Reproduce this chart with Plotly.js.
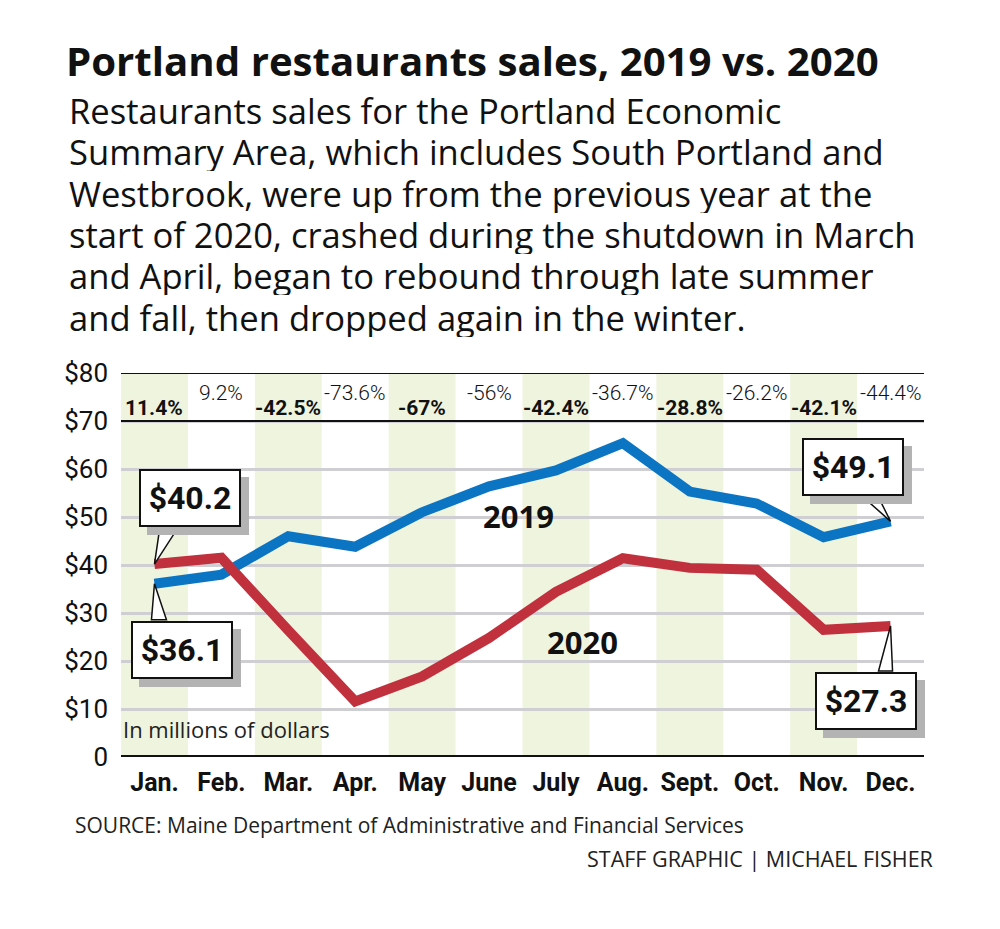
<!DOCTYPE html>
<html>
<head>
<meta charset="utf-8">
<script src="https://cdn.plot.ly/plotly-3.0.1.min.js"></script>
<style>html,body{margin:0;padding:0;background:#fff;}#chart{width:1000px;height:929px;}</style>
</head>
<body>
<div id="chart"></div>
<script>
// ---- data ----
const months = ["Jan.", "Feb.", "Mar.", "Apr.", "May", "June", "July", "Aug.", "Sept.", "Oct.", "Nov.", "Dec."];
const sales2019 = [36.1, 38.0, 46.0, 43.8, 51.0, 56.4, 59.7, 65.4, 55.3, 52.8, 45.8, 49.1];
const sales2020 = [40.2, 41.5, 26.4, 11.6, 16.8, 24.8, 34.4, 41.4, 39.4, 39.0, 26.5, 27.3];
const pctChange = ["11.4%", "9.2%", "-42.5%", "-73.6%", "-67%", "-56%", "-42.4%", "-36.7%", "-28.8%", "-26.2%", "-42.1%", "-44.4%"];
const yTicks = [0, 10, 20, 30, 40, 50, 60, 70, 80];
const yTickText = ["0", "$10", "$20", "$30", "$40", "$50", "$60", "$70", "$80"];
const subtitleLines = [
  "Restaurants sales for the Portland Economic",
  "Summary Area, which includes South Portland and",
  "Westbrook, were up from the previous year at the",
  "start of 2020, crashed during the shutdown in March",
  "and April, began to rebound through late summer",
  "and fall, then dropped again in the winter."
];

const idx = months.map((m, i) => i);
const BLUE = "#0b75c4", RED = "#c1303d";
const COND = "Roboto, 'Liberation Sans Narrow', sans-serif";
const SANS = "'Open Sans', 'Noto Sans', sans-serif";

const traces = [
  {x: idx, y: sales2019, type: "scatter", mode: "lines", line: {color: BLUE, width: 10}, hoverinfo: "skip"},
  {x: idx, y: sales2020, type: "scatter", mode: "lines", line: {color: RED, width: 10}, hoverinfo: "skip"}
];

const shapes = [];
idx.forEach(i => {
  if (i % 2 === 0) {
    shapes.push({type: "rect", xref: "x", yref: "y", x0: i - 0.5, x1: i + 0.5, y0: 0, y1: 80,
      fillcolor: "#eff4df", line: {width: 0}, layer: "below"});
  }
});
[70, 80].forEach(v => shapes.push({type: "line", xref: "paper", yref: "y", x0: 0, x1: 1, y0: v, y1: v,
  line: {color: "#111", width: 2}}));
shapes.push({type: "line", xref: "paper", yref: "y", x0: 0, x1: 1, y0: 0, y1: 0, line: {color: "#111", width: 4}});

const annotations = [];
// percent labels
idx.forEach(i => {
  const bold = i % 2 === 0;
  annotations.push({x: i, y: bold ? 72.7 : 75.9, xref: "x", yref: "y", showarrow: false,
    text: bold ? "<b>" + pctChange[i] + "</b>" : pctChange[i],
    font: {family: COND, size: 21, weight: bold ? 700 : 300, color: "#111"}});
});
annotations.push({x: 0.5, y: 83.7, xref: "paper", yref: "y", showarrow: false,
  text: "<b>PERCENT CHANGE FROM 2019 TO 2020</b>", font: {family: "DejaVu Sans", size: 13, color: "#111"}});

// callouts: box offsets (ax, ay) and pointer triangle (pixel path relative to the point)
function callout(xi, yv, label, ax, ay, ptr) {
  annotations.push({x: xi, y: yv, xref: "x", yref: "y", text: " ", showarrow: true,
    arrowcolor: "rgba(0,0,0,0)", arrowwidth: 0.1, arrowhead: 0, ax: ax + 8, ay: ay + 8,
    bgcolor: "#b3b3b3", bordercolor: "#b3b3b3", borderwidth: 2, width: 96, height: 52,
    font: {family: COND, size: 32, color: "#b3b3b3"}});
  annotations.push({x: xi, y: yv, xref: "x", yref: "y", text: "<b>" + label + "</b>", showarrow: true,
    arrowcolor: "rgba(0,0,0,0)", arrowwidth: 0.1, arrowhead: 0, ax: ax, ay: ay,
    bgcolor: "#fff", bordercolor: "#111", borderwidth: 2, width: 96, height: 52,
    font: {family: COND, size: 32, color: "#111"}});
  shapes.push({type: "path", xref: "x", yref: "y", xsizemode: "pixel", ysizemode: "pixel",
    xanchor: xi, yanchor: yv,
    path: "M " + ptr[0] + " " + ptr[1] + " L 0 0 L " + ptr[2] + " " + ptr[3] + " Z",
    fillcolor: "#fff", line: {color: "#111", width: 1.5}, layer: "above"});
}
callout(0, sales2020[0], "$" + sales2020[0].toFixed(1), 36, -66, [5, 34, 22, 34]);
callout(0, sales2019[0], "$" + sales2019[0].toFixed(1), 28, 66, [-3, -36, 12, -36]);
callout(11, sales2019[11], "$" + sales2019[11].toFixed(1), -38, -54, [-27, 24, -12, 24]);
callout(11, sales2020[11], "$" + sales2020[11].toFixed(1), -25, 75, [-12, -45, 2, -45]);

// series labels
annotations.push({x: (518 - 121) / 803, y: (757 - 516) / 384, xref: "paper", yref: "paper", showarrow: false,
  xanchor: "center", yanchor: "middle", text: "<b>2019</b>", font: {family: SANS, size: 31, color: "#111"}});
annotations.push({x: (582 - 121) / 803, y: (757 - 642) / 384, xref: "paper", yref: "paper", showarrow: false,
  xanchor: "center", yanchor: "middle", text: "<b>2020</b>", font: {family: SANS, size: 31, color: "#111"}});

annotations.push({x: (121 - 121) / 803, y: (757 - 729) / 384, xref: "paper", yref: "paper", showarrow: false,
  xanchor: "left", yanchor: "middle", text: "In millions of dollars", font: {family: SANS, size: 22, color: "#222"}});

// subtitle
subtitleLines.forEach((t, k) => {
  annotations.push({x: (68 - 121) / 803, y: (757 - (110 + k * 41.3)) / 384, xref: "paper", yref: "paper",
    showarrow: false, xanchor: "left", yanchor: "middle", height: 40, borderpad: 0,
    text: t, font: {family: SANS, size: 34.6, color: "#111"}});
});

annotations.push({x: (73 - 121) / 803, y: (757 - 825) / 384, xref: "paper", yref: "paper", showarrow: false,
  xanchor: "left", yanchor: "middle", text: "SOURCE: Maine Department of Administrative and Financial Services",
  font: {family: SANS, size: 21, color: "#222"}});
annotations.push({x: (935 - 121) / 803, y: (757 - 858) / 384, xref: "paper", yref: "paper", showarrow: false,
  xanchor: "right", yanchor: "middle", text: "STAFF GRAPHIC | MICHAEL FISHER", font: {family: SANS, size: 21.5, color: "#222"}});

const layout = {
  width: 1000, height: 929,
  margin: {l: 121, r: 76, t: 373, b: 172},
  paper_bgcolor: "#fff", plot_bgcolor: "rgba(0,0,0,0)",
  showlegend: false,
  title: {text: "<b>Portland restaurants sales, 2019 vs. 2020</b>", x: 0.066, xanchor: "left", xref: "container",
    y: 1 - 62 / 929, yanchor: "middle", yref: "container", font: {family: SANS, size: 40.2, color: "#111"}},
  xaxis: {range: [-0.5, 11.5], tickvals: idx, ticktext: months, showgrid: false, zeroline: false, showline: false,
    ticks: "", ticklabelstandoff: 8, tickfont: {family: COND, size: 25, weight: 700, color: "#111"}, fixedrange: true},
  yaxis: {range: [0, 80], tickvals: yTicks, ticktext: yTickText, showgrid: true, gridcolor: "#cfcfd3", gridwidth: 3,
    zeroline: false, showline: false, ticks: "", ticklabelstandoff: 12,
    tickfont: {family: COND, size: 26, color: "#111"}, fixedrange: true},
  shapes: shapes,
  annotations: annotations
};

Plotly.newPlot("chart", traces, layout, {displayModeBar: false, staticPlot: true});
</script>
</body>
</html>
